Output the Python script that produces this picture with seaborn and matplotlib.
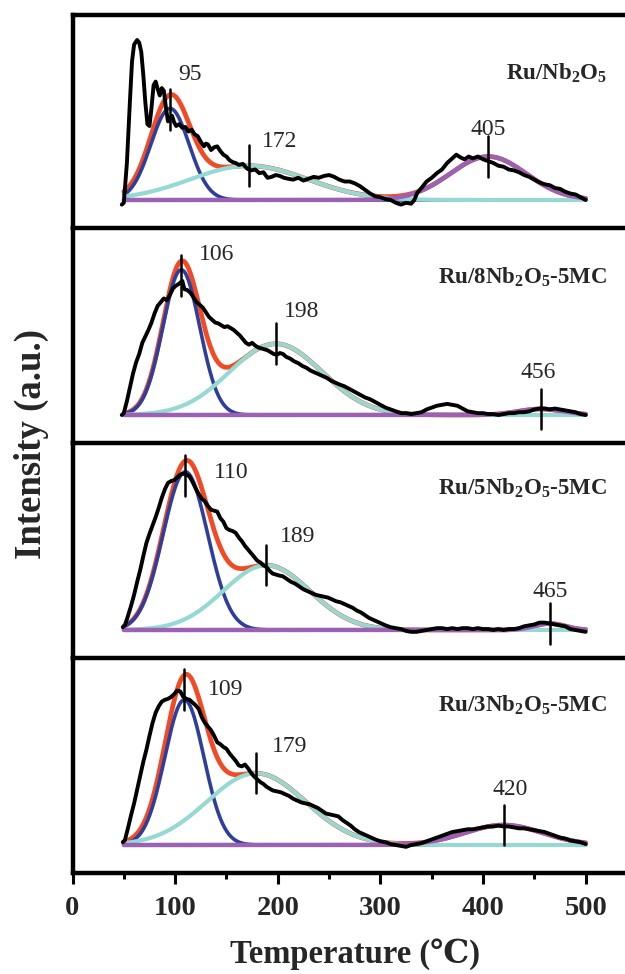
import numpy as np
import pandas as pd
import matplotlib
matplotlib.use("Agg")
import matplotlib.pyplot as plt
from matplotlib.ticker import MultipleLocator
import seaborn as sns

# ---------------------------------------------------------------- data
samples = [
    r"Ru/Nb$_\mathbf{2}$O$_\mathbf{5}$",
    r"Ru/8Nb$_\mathbf{2}$O$_\mathbf{5}$-5MC",
    r"Ru/5Nb$_\mathbf{2}$O$_\mathbf{5}$-5MC",
    r"Ru/3Nb$_\mathbf{2}$O$_\mathbf{5}$-5MC",
]

# fitted Gaussian components: centre (deg C), height (a.u.), sigma (deg C)
peak_centers = [[95, 172, 405], [106, 198, 456], [110, 189, 465], [109, 179, 420]]
peak_heights = [[99, 37, 47], [157, 77, 6.5], [171, 70, 7], [157, 77.5, 21.6]]
peak_sigmas = [[18.7, 57, 37], [18, 45, 22], [21.7, 42, 15], [19, 48, 38]]

# measured H2-TPD traces
temp_nb2o5 = [48, 50, 53, 56, 58, 60, 63, 65, 67, 69, 71, 73, 75, 77, 79, 81, 83, 85, 87, 89,
              91, 93, 95, 97, 99, 101, 104, 107, 110, 113, 116, 119, 122, 125, 128, 130, 132,
              135, 138, 141, 144, 147, 150, 153, 156, 159, 162, 166, 170, 174, 178, 182, 186,
              190, 194, 198, 202, 206, 210, 215, 220, 225, 230, 235, 240, 245, 250, 255, 260,
              265, 270, 275, 280, 285, 290, 295, 300, 305, 310, 315, 320, 325, 330, 333, 336,
              340, 345, 350, 355, 360, 365, 370, 374, 378, 382, 386, 390, 395, 400, 405, 410,
              415, 420, 425, 430, 435, 440, 445, 450, 455, 460, 465, 470, 475, 480, 485, 490,
              495, 500]
sig_nb2o5 = [-5, -3, 40, 108, 150, 168, 173, 170, 160, 135, 105, 82, 80, 100, 124, 128, 120, 113,
             121, 118, 100, 85, 88, 91, 84, 80, 82, 78, 79, 74, 76, 71, 69, 63, 58, 61, 60, 54,
             57, 58, 53, 49, 47, 43, 41, 40, 38, 39, 34, 32, 33, 29, 30, 24, 25, 27, 26, 24, 23,
             22, 24, 21, 23, 25, 24, 26, 27, 25, 22, 20, 20, 18, 15, 11, 7, 4, 3, 1, 0, -3, -5,
             -3, -4, 0, 8, 13, 20, 24, 29, 33, 40, 45, 49, 46, 44, 47, 45, 47, 44, 42, 40, 37,
             36, 33, 32, 30, 27, 25, 22, 19, 17, 16, 13, 12, 9, 7, 6, 3, 0]

temp_8nb = [48, 50, 53, 56, 59, 62, 65, 68, 71, 74, 77, 80, 83, 86, 89, 92, 95, 98, 101, 104,
            107, 109, 112, 115, 118, 121, 124, 127, 130, 133, 136, 139, 142, 145, 148, 151, 154,
            157, 160, 163, 166, 169, 172, 175, 178, 181, 184, 187, 190, 193, 196, 199, 202, 205,
            208, 212, 216, 220, 224, 228, 232, 236, 240, 244, 248, 252, 256, 260, 265, 270, 275,
            280, 285, 290, 295, 300, 305, 310, 315, 320, 325, 330, 335, 340, 345, 350, 355, 360,
            365, 370, 375, 380, 385, 390, 395, 400, 405, 410, 415, 420, 425, 430, 435, 440, 445,
            450, 455, 460, 465, 470, 475, 480, 485, 490, 495, 500]
sig_8nb = [0, 2, 15, 30, 45, 57, 66, 78, 85, 92, 100, 110, 118, 122, 126, 124, 130, 137, 140,
           142, 145, 136, 135, 132, 127, 122, 119, 116, 111, 106, 103, 100, 99, 97, 95, 96, 94,
           92, 89, 86, 82, 78, 76, 78, 75, 73, 72, 71, 70, 68, 66, 65, 67, 66, 63, 61, 58, 56,
           53, 51, 48, 46, 44, 42, 40, 37, 35, 33, 31, 28, 25, 22, 19, 17, 14, 11, 8, 6, 4, 2,
           2, 1, 2, 3, 6, 8, 10, 11, 12, 11, 10, 7, 4, 3, 2, 2, 1, 1, 0, 1, 2, 2, 3, 3, 4, 6,
           7, 7, 6, 7, 6, 5, 4, 3, 1, 0]

temp_5nb = [49, 51, 54, 57, 60, 63, 66, 69, 72, 75, 78, 81, 84, 87, 90, 93, 96, 99, 102, 105,
            108, 111, 114, 117, 120, 123, 126, 129, 132, 135, 138, 141, 144, 147, 150, 153, 156,
            159, 162, 165, 168, 171, 174, 177, 180, 183, 186, 189, 192, 195, 198, 201, 205, 209,
            213, 217, 221, 225, 229, 233, 237, 241, 245, 249, 253, 257, 261, 265, 269, 273, 277,
            281, 285, 289, 293, 297, 301, 305, 310, 315, 320, 325, 330, 335, 340, 345, 350, 355,
            360, 365, 370, 375, 380, 385, 390, 395, 400, 405, 410, 415, 420, 425, 430, 435, 440,
            445, 450, 455, 460, 465, 470, 475, 480, 485, 490, 495, 500]
sig_5nb = [3, 5, 15, 26, 38, 52, 65, 80, 94, 104, 113, 122, 132, 143, 152, 159, 161, 162, 165,
           168, 169, 168, 166, 160, 153, 147, 142, 139, 134, 130, 129, 128, 121, 117, 110, 108,
           107, 105, 100, 96, 91, 87, 83, 79, 75, 73, 70, 68, 64, 61, 60, 59, 58, 55, 52, 50,
           47, 44, 42, 40, 38, 37, 36, 35, 33, 31, 30, 28, 26, 24, 21, 19, 16, 13, 11, 9, 7, 5,
           3, 2, 1, -1, -2, -2, -1, 0, 1, 2, 2, 1, 2, 1, 2, 2, 1, 2, 1, 1, 0, 1, 0, 1, 1, 2, 4,
           5, 6, 8, 8, 7, 6, 5, 4, 1, 0, -1, -2]

temp_3nb = [49, 51, 54, 57, 60, 63, 66, 69, 72, 75, 78, 81, 84, 87, 90, 93, 96, 99, 102, 105,
            108, 111, 114, 117, 120, 123, 126, 129, 132, 135, 138, 141, 144, 147, 150, 153, 156,
            159, 162, 165, 168, 171, 174, 177, 180, 183, 186, 189, 192, 195, 199, 203, 207, 211,
            215, 219, 223, 227, 231, 235, 239, 243, 247, 251, 255, 259, 263, 267, 271, 275, 279,
            283, 287, 291, 295, 300, 305, 310, 315, 320, 325, 330, 335, 340, 345, 350, 355, 360,
            365, 370, 375, 380, 385, 390, 395, 400, 405, 410, 415, 420, 425, 430, 435, 440, 445,
            450, 455, 460, 465, 470, 475, 480, 485, 490, 495, 500]
sig_3nb = [3, 5, 18, 32, 45, 60, 75, 90, 103, 118, 132, 143, 150, 155, 157, 158, 160, 163, 167,
           166, 160, 158, 157, 154, 151, 147, 138, 132, 128, 124, 118, 111, 109, 106, 104, 99,
           95, 91, 86, 85, 87, 83, 78, 74, 71, 68, 66, 63, 61, 59, 58, 57, 55, 53, 50, 48, 46,
           45, 44, 42, 40, 37, 34, 33, 32, 31, 27, 24, 21, 17, 14, 12, 10, 8, 6, 4, 3, 1, 0,
           -1, -2, 0, 1, 2, 4, 6, 8, 10, 12, 14, 15, 16, 17, 17, 18, 19, 20, 20, 21, 20, 20, 19,
           18, 18, 17, 16, 15, 14, 12, 10, 8, 7, 5, 4, 3, 1]

temps = [temp_nb2o5, temp_8nb, temp_5nb, temp_3nb]
signals = [sig_nb2o5, sig_8nb, sig_5nb, sig_3nb]

# --------------------------------------------------------------- style
sns.set_style("white")
plt.rcParams["font.family"] = ["Liberation Serif", "DejaVu Serif", "DejaVu Sans"]
plt.rcParams["mathtext.fontset"] = "custom"
plt.rcParams["mathtext.rm"] = "Liberation Serif:bold"
plt.rcParams["mathtext.bf"] = "Liberation Serif:bold"
plt.rcParams["mathtext.default"] = "bf"

C_EXP = "black"
C_SUM = "#f24a25"
C_COMP = ["#2e3e9c", "#96d9d2", "#9b62b3"]

W, H = 625, 974
fig = plt.figure(figsize=(W / 100, H / 100), dpi=100)
fig.patch.set_facecolor("white")

# panel edges in pixels from the top of the canvas
edges = [14.5, 227.5, 442.5, 657.5, 872.5]
x_left = 72.5
px_per_deg = 1.0264
x_max = (W - x_left) / px_per_deg
px_per_unit = 0.925
base_px = 27.5

# annotation anchors (x centre, baseline) for each peak value
value_pos = [[(114.6, 129.7), (201.7, 57.7), (405.3, 70)],
             [(140.3, 167.6), (222.8, 106), (453.5, 39.6)],
             [(154.3, 164), (219.3, 95.5), (465, 36)],
             [(149, 162), (211.2, 101), (426.4, 54)]]
name_base = [129.7, 142, 146, 144]

grid = np.linspace(50, 500, 901)
spine_w = 3.2

for i in range(4):
    top, bot = edges[i], edges[i + 1]
    ax = fig.add_axes([x_left / W, 1 - bot / H, (W - x_left) / W, (bot - top) / H])
    ax.set_facecolor("none")
    ylo = -base_px / px_per_unit
    yhi = ylo + (bot - top) / px_per_unit
    ax.set_xlim(0, x_max)
    ax.set_ylim(ylo, yhi)

    comps = [h * np.exp(-(grid - c) ** 2 / (2 * s ** 2))
             for c, h, s in zip(peak_centers[i], peak_heights[i], peak_sigmas[i])]
    envelope = np.sum(comps, axis=0)

    sns.lineplot(x=grid, y=envelope, color=C_SUM, lw=3.4, ax=ax, zorder=2, legend=False)
    sns.lineplot(x=grid, y=comps[0], color=C_COMP[0], lw=2.6, ax=ax, zorder=3, legend=False)
    sns.lineplot(x=grid, y=comps[1], color=C_COMP[1], lw=3.0, ax=ax, zorder=3, legend=False)
    sns.lineplot(x=grid, y=comps[2], color=C_COMP[2], lw=3.2, ax=ax, zorder=4, legend=False)

    df = pd.DataFrame({"T": temps[i], "I": signals[i]})
    sns.lineplot(data=df, x="T", y="I", color=C_EXP, lw=2.8, ax=ax, zorder=5,
                 sort=False, estimator=None, legend=False)

    # peak position markers and values
    for k, c in enumerate(peak_centers[i]):
        env_c = float(np.interp(c, grid, envelope))
        mid = env_c - 16 if k == 0 else env_c
        ax.plot([c, c], [mid - 22, mid + 22], color="black", lw=1.8, zorder=6)
        tx, ty = value_pos[i][k]
        ax.text(tx, ty, str(c), ha="center", va="baseline", fontsize=17, zorder=7)

    ax.text(521, name_base[i], samples[i], ha="right", va="baseline",
            fontsize=16.5, fontweight="bold", zorder=7)

    ax.set_xlabel("")
    ax.set_ylabel("")
    ax.set_yticks([])
    for side in ["left", "top", "bottom"]:
        ax.spines[side].set_linewidth(spine_w)
        ax.spines[side].set_color("black")
    ax.spines["right"].set_visible(False)
    if i < 3:
        ax.spines["bottom"].set_visible(False)
        ax.set_xticks([])
    else:
        ax.xaxis.set_major_locator(MultipleLocator(100))
        ax.xaxis.set_minor_locator(MultipleLocator(50))
        ax.set_xticks([0, 100, 200, 300, 400, 500])
        ax.tick_params(axis="x", which="major", direction="out", length=8, width=2.2,
                       pad=9, labelsize=20.5, color="black", bottom=True)
        ax.tick_params(axis="x", which="minor", direction="out", length=4.5, width=2.2,
                       color="black", bottom=True)
        for lab in ax.get_xticklabels():
            lab.set_fontweight("bold")

fig.text(355 / W, 1 - 963 / H, "Temperature (\u2103)", ha="center", va="baseline",
         fontsize=23.5, fontweight="bold")
fig.text(31 / W, 1 - 444 / H, "Intensity (a.u.)", ha="center", va="center",
         rotation=90, fontsize=26.5, fontweight="bold")

fig.savefig("out.png", dpi=100, facecolor="white")
